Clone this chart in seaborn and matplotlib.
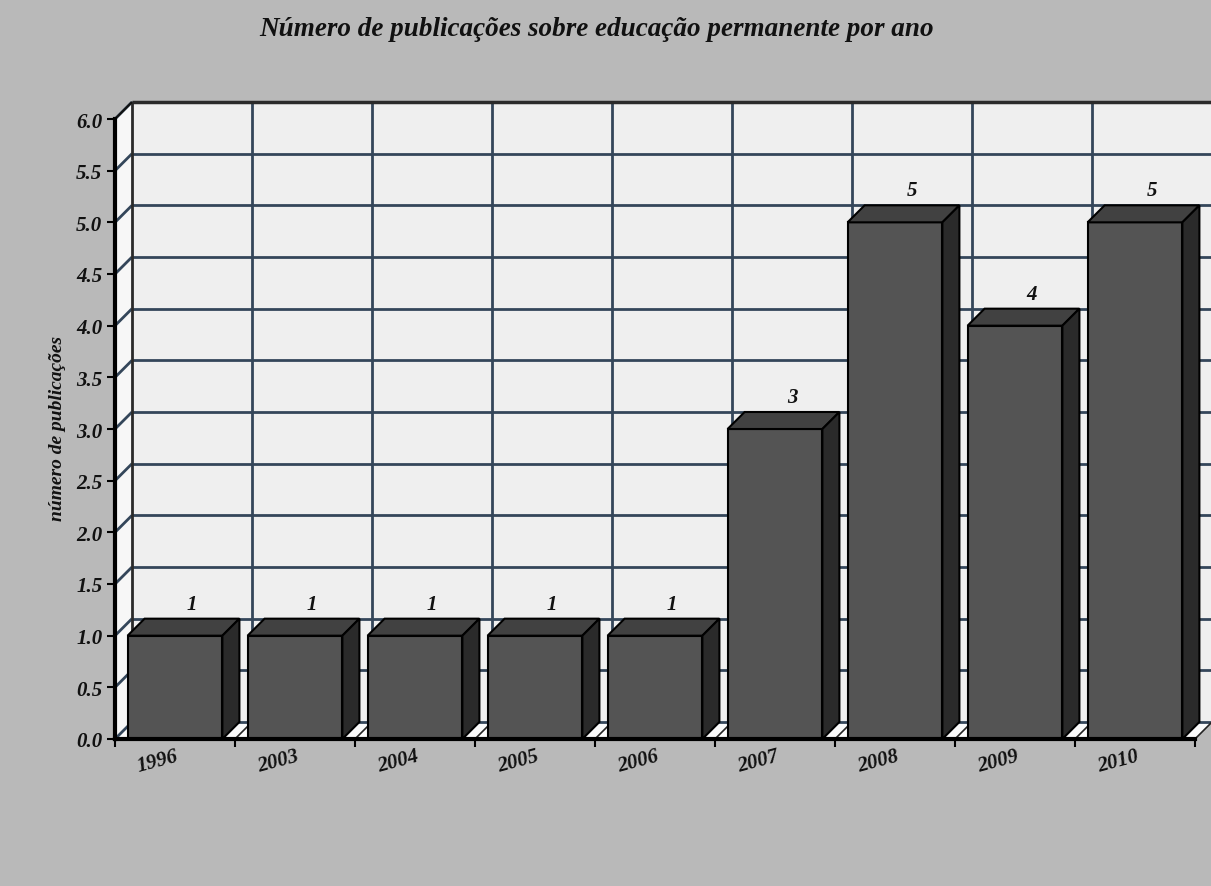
import numpy as np
import pandas as pd
import matplotlib as mpl
mpl.use('Agg')
import matplotlib.pyplot as plt
from matplotlib.patches import Polygon
from matplotlib.transforms import IdentityTransform, ScaledTranslation
import seaborn as sns

anos = ['1996', '2003', '2004', '2005', '2006', '2007', '2008', '2009', '2010']
publicacoes = [1, 1, 1, 1, 1, 3, 5, 4, 5]
y_ticks = [0.0, 0.5, 1.0, 1.5, 2.0, 2.5, 3.0, 3.5, 4.0, 4.5, 5.0, 5.5, 6.0]
titulo = 'Número de publicações sobre educação permanente por ano'
y_titulo = 'número de publicações'

bg_c = '#b9b9b9'
wall_c = '#efefef'
side_wall_c = '#f7f7f7'
floor_c = '#fafafa'
grid_c = '#34465a'
front_c = '#545454'
top_c = '#414141'
side_c = '#2a2a2a'
depth = 17  # profundidade 3d em pixels

sns.set_style('white')
plt.rcParams['font.family'] = ['Liberation Serif', 'DejaVu Serif']
plt.rcParams['font.weight'] = 'bold'
plt.rcParams['font.style'] = 'italic'

fig = plt.figure(figsize=(12.11, 8.87), dpi=100, facecolor=bg_c)
ax = fig.add_axes([115 / 1211, 147 / 887, 1080 / 1211, 620 / 887])
ax.patch.set_alpha(0)

df = pd.DataFrame({'ano': anos, 'n': publicacoes})
sns.barplot(data=df, x='ano', y='n', color=front_c, saturation=1, width=0.79,
            edgecolor='black', linewidth=1.5, ax=ax, zorder=5)

ax.set_xlim(-0.5, len(anos) - 0.5)
ax.set_ylim(0, 6)
x0, x1 = ax.get_xlim()
y0, y1 = ax.get_ylim()


def px(x, y, back=False):
    p = ax.transData.transform((x, y))
    if back:
        p = p + depth
    return p


def poly(pts, fc, ec='none', lw=0, z=1):
    ax.add_patch(Polygon(np.array(pts), closed=True, facecolor=fc, edgecolor=ec,
                         linewidth=lw, transform=IdentityTransform(), clip_on=False,
                         zorder=z, joinstyle='miter'))


def line(a, b, c=grid_c, lw=2, z=1):
    ax.plot([a[0], b[0]], [a[1], b[1]], color=c, linewidth=lw,
            transform=IdentityTransform(), clip_on=False, zorder=z,
            solid_capstyle='butt')


# paredes
poly([px(x0, y0, True), px(x1, y0, True), px(x1, y1, True), px(x0, y1, True)], wall_c, z=0.1)
poly([px(x0, y0), px(x0, y0, True), px(x0, y1, True), px(x0, y1)], side_wall_c, z=0.1)
poly([px(x0, y0), px(x1, y0), px(x1, y0, True), px(x0, y0, True)], floor_c, z=0.1)

for yt in y_ticks:
    line(px(x0, yt, True), px(x1, yt, True), z=0.3)
    line(px(x0, yt), px(x0, yt, True), z=0.3)
for xb in np.arange(x0 + 1, x1, 1.0):
    line(px(xb, y0, True), px(xb, y1, True), z=0.3)
for xb in np.arange(x0 + 1, x1 + 0.5, 1.0):
    line(px(xb, y0), px(xb, y0, True), c='#222222', lw=1.2, z=0.35)
line(px(x0, y0, True), px(x0, y1, True), c='#2a2a2a', lw=2, z=0.35)
line(px(x0, y1, True), px(x1, y1, True), c='#2a2a2a', lw=2.5, z=0.35)
line(px(x0, y1), px(x0, y1, True), c='#111111', lw=1.5, z=0.35)

# faces 3d das barras
for p, v in zip(ax.patches, publicacoes):
    bx0 = p.get_x()
    bx1 = bx0 + p.get_width()
    h = p.get_height()
    poly([px(bx0, h), px(bx1, h), px(bx1, h, True), px(bx0, h, True)], top_c,
         ec='black', lw=1.5, z=5.1)
    poly([px(bx1, 0), px(bx1, 0, True), px(bx1, h, True), px(bx1, h)], side_c,
         ec='black', lw=1.5, z=5.1)
    ax.annotate(str(v), (bx0 + p.get_width() / 2, h), xytext=(depth, depth + 5),
                textcoords='offset pixels', ha='center', va='bottom',
                fontsize=15, color='#111111', zorder=7)

# eixos
sns.despine(ax=ax, top=True, right=True)
for s in ['left', 'bottom']:
    ax.spines[s].set_linewidth(3)
    ax.spines[s].set_color('black')
    ax.spines[s].set_zorder(6)

ax.set_yticks(y_ticks)
ax.set_yticklabels([f'{t:.1f}' for t in y_ticks], fontsize=15, color='#111111')
ax.tick_params(axis='y', which='major', left=True, length=6, width=1.5,
               color='black', direction='out', pad=3)
ax.set_xticks(range(len(anos)))
ax.set_xticklabels(anos, rotation=15, fontsize=15, color='#111111')
ax.set_xticks(np.arange(x0, x1 + 0.5, 1.0), minor=True)
ax.tick_params(axis='x', which='major', bottom=True, length=0, pad=5)
ax.tick_params(axis='x', which='minor', bottom=True, length=6, width=1.5,
               color='black', direction='out')
shift = ScaledTranslation(-17 / 100, 0, fig.dpi_scale_trans)
for lab in ax.get_xticklabels():
    lab.set_transform(lab.get_transform() + shift)
ax.set_xlabel('')
ax.set_ylabel('')

fig.text(597 / 1211, 1 - 30 / 887, titulo, ha='center', va='center',
         fontsize=19.5, color='#111111')
fig.text(58 / 1211, 1 - 428 / 887, y_titulo, ha='center', va='center',
         rotation=90, fontsize=14, color='#111111')

fig.savefig('out.png', dpi=100, facecolor=bg_c)
